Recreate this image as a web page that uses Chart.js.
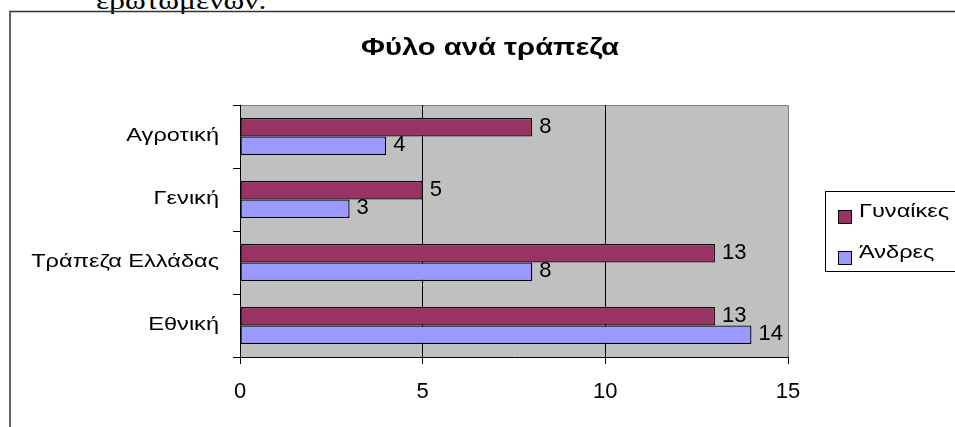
<!DOCTYPE html>
<html>
<head>
<meta charset="utf-8">
<script src="https://cdn.jsdelivr.net/npm/chart.js@4"></script>
<style>
  body { margin: 0; background: #fff; overflow: hidden; }
  #wrap { position: absolute; left: 0; top: 0; width: 955px; height: 427px; }
  #above { position: absolute; left: 96px; top: -12px; font: 25px "Liberation Serif", serif; line-height: 25px; color: #000; white-space: nowrap; transform: scaleX(1.26); transform-origin: 0 0; }
</style>
</head>
<body>
<div id="above">ερωτωμένων.</div>
<div id="wrap"><canvas id="chart1" width="955" height="427"></canvas></div>
<script>
// bank names, top to bottom
const banks = ['Αγροτική', 'Γενική', 'Τράπεζα Ελλάδας', 'Εθνική'];
const women = [8, 5, 13, 13];
const men = [4, 3, 8, 14];
const xTicks = [0, 5, 10, 15];
const chartTitle = 'Φύλο ανά τράπεζα';

// the greek text in the picture is drawn wide, so stretch it sideways
function wideText(c, text, x, y, align, sx) {
    c.save();
    c.translate(x, y);
    c.scale(sx, 1);
    c.textAlign = align;
    c.fillText(text, 0, 0);
    c.restore();
}

document.addEventListener("DOMContentLoaded", function() {
    const ctx1 = document.getElementById('chart1').getContext('2d');

    // frame, title, grey plot background, category names, value labels and the boxed legend
    const extras = {
        id: 'extras',
        beforeDraw(chart) {
            const c = chart.ctx, a = chart.chartArea;
            c.save();
            c.strokeStyle = '#333';
            c.lineWidth = 1.5;
            c.strokeRect(10, 11.5, 960, 430);
            c.fillStyle = '#c0c0c0';
            c.fillRect(a.left, a.top, a.right - a.left, a.bottom - a.top);
            c.strokeStyle = '#808080';
            c.lineWidth = 1;
            c.beginPath();
            c.moveTo(a.left, a.top + 0.5); c.lineTo(a.right + 0.5, a.top + 0.5);
            c.lineTo(a.right + 0.5, a.bottom);
            c.stroke();
            c.fillStyle = '#000';
            c.textBaseline = 'alphabetic';
            c.font = 'bold 23px "Liberation Sans", Arial, sans-serif';
            wideText(c, chartTitle, 490, 55, 'center', 1.27);
            // category names on the left
            c.font = '19px "Liberation Sans", Arial, sans-serif';
            const yScale = chart.scales.y;
            chart.data.labels.forEach(function(name, i) {
                wideText(c, name, 219, yScale.getPixelForValue(i) + 4.5, 'right', 1.24);
            });
            c.restore();
        },
        afterDatasetsDraw(chart) {
            const c = chart.ctx;
            c.save();
            c.fillStyle = '#000';
            c.font = '22px "Liberation Sans", Arial, sans-serif';
            c.textAlign = 'left';
            c.textBaseline = 'alphabetic';
            chart.data.datasets.forEach(function(ds, i) {
                chart.getDatasetMeta(i).data.forEach(function(bar, j) {
                    c.fillText(String(ds.data[j]), bar.x + 7, bar.y + 5.5);
                });
            });
            // legend
            c.strokeStyle = '#000';
            c.lineWidth = 1;
            c.strokeRect(825.5, 191.5, 140, 80);
            c.font = '19px "Liberation Sans", Arial, sans-serif';
            const rows = [217, 258];
            chart.data.datasets.forEach(function(ds, i) {
                c.fillStyle = ds.backgroundColor;
                c.fillRect(838.5, rows[i] - 6.5, 13, 13);
                c.strokeRect(838.5, rows[i] - 6.5, 13, 13);
                c.fillStyle = '#000';
                wideText(c, ds.label, 859, rows[i], 'left', 1.24);
            });
            c.restore();
        }
    };

    new Chart(ctx1, {
        type: 'bar',
        data: {
            labels: banks,
            datasets: [{
                label: 'Γυναίκες',
                data: women,
                backgroundColor: '#993366',
                borderColor: '#000',
                borderWidth: 1.3,
                borderSkipped: false,
                categoryPercentage: 0.59,
                barPercentage: 1
            }, {
                label: 'Άνδρες',
                data: men,
                backgroundColor: '#9999ff',
                borderColor: '#000',
                borderWidth: 1.3,
                borderSkipped: false,
                categoryPercentage: 0.59,
                barPercentage: 1
            }]
        },
        options: {
            indexAxis: 'y',
            responsive: false,
            animation: false,
            layout: { padding: { left: 0, top: 105, right: 167, bottom: 20 } },
            plugins: {
                legend: { display: false },
                title: { display: false },
                tooltip: { enabled: false }
            },
            scales: {
                x: {
                    min: 0,
                    max: 15,
                    afterBuildTicks: function(scale) {
                        scale.ticks = xTicks.map(function(v) { return { value: v }; });
                    },
                    afterFit: function(scale) { scale.height = 50; },
                    grid: {
                        color: function(ctx) {
                            return (ctx.tick && (ctx.tick.value === 0 || ctx.tick.value === 15)) ? 'rgba(0,0,0,0)' : '#000';
                        },
                        tickColor: '#000',
                        tickLength: 7,
                        lineWidth: 1
                    },
                    border: { color: '#000', width: 1 },
                    ticks: {
                        color: '#000',
                        padding: 15,
                        font: { family: '"Liberation Sans", Arial, sans-serif', size: 22 }
                    }
                },
                y: {
                    afterFit: function(scale) { scale.width = 240; },
                    grid: {
                        drawOnChartArea: false,
                        offset: true,
                        tickColor: '#000',
                        tickLength: 7
                    },
                    border: { color: '#000', width: 1 },
                    ticks: { display: false }
                }
            }
        },
        plugins: [extras]
    });
});
</script>
</body>
</html>
